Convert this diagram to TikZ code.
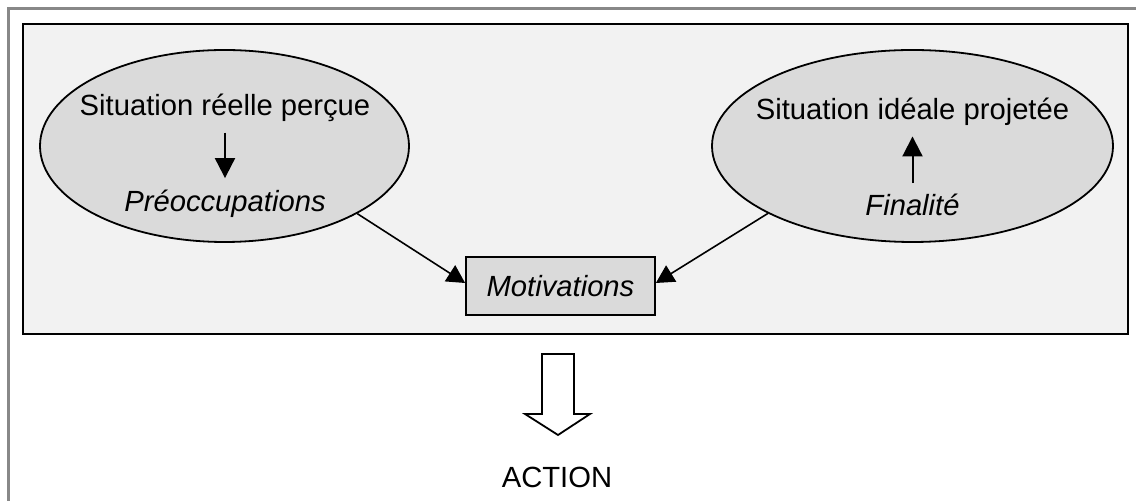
\documentclass[tikz,border=0pt]{standalone}
\usepackage{fontspec}
\setmainfont{Liberation Sans}
\usetikzlibrary{arrows.meta,shapes.geometric}
\definecolor{panelgray}{HTML}{F2F2F2}
\definecolor{bubblegray}{HTML}{DADADA}
\definecolor{framegray}{HTML}{888888}

\begin{document}
\begin{tikzpicture}[x=0.5pt,y=-0.5pt,
  txt/.style={inner sep=0pt, anchor=base, font=\fontsize{14.6}{17}\selectfont},
  bubble/.style={ellipse, draw, line width=0.9pt, fill=bubblegray, inner sep=0pt},
  link/.style={line width=0.8pt, -{Triangle[length=9pt,width=9.5pt]}},
  innerlink/.style={line width=1pt, -{Triangle[length=10pt,width=10pt]}},
]
\clip (0,0) rectangle (1136,501);
\fill[white] (0,0) rectangle (1136,501);

% outer frame and the shaded panel
\draw[framegray, line width=1.5pt] (8.5,520) |- (1150,8.5);
\draw[fill=panelgray, line width=1.25pt] (23,24) rectangle (1128,334);

% the two situations
\node[bubble, minimum width=184.5pt, minimum height=96pt] (L) at (224.5,146) {};
\node[bubble, minimum width=200.5pt, minimum height=96pt] (R) at (912.5,146) {};

\node[txt] (t1) at (225,116) {Situation réelle perçue};
\node[txt] (p1) at (225,212) {\itshape Préoccupations};
\node[txt] (t2) at (912.5,120) {Situation idéale projetée};
\node[txt] (f2) at (912.5,216) {\itshape Finalité};

\draw[innerlink, shorten <=5pt, shorten >=6pt] (t1.south) -- (p1.north);
\draw[innerlink, shorten <=5.5pt, shorten >=5pt] (f2.north) -- (t2.south);

% motivations
\node[draw, fill=bubblegray, line width=0.9pt, minimum width=94.5pt,
      minimum height=29pt, inner sep=0pt, font=\fontsize{14.6}{17}\selectfont]
      (M) at (560.5,286) {\itshape Motivations};

\draw[link] (L.-27.5) -- ([yshift=1.5pt]M.west);
\draw[link] (R.205.8) -- ([yshift=1.5pt]M.east);

% hollow arrow towards the action
\draw[line width=0.9pt, fill=white]
  (542,354) -- (574,354) -- (574,414) -- (590,414) -- (558,435)
  -- (525,414) -- (542,414) -- cycle;
\node[txt] (act) at (557,488) {ACTION};
\end{tikzpicture}
\end{document}
